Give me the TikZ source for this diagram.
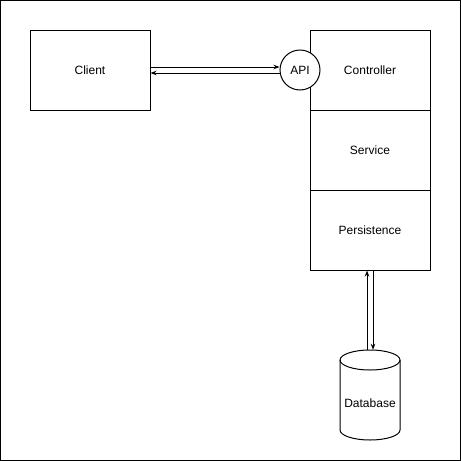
\documentclass[tikz,border=0pt]{standalone}
\usepackage{fontspec}
\setmainfont{Liberation Sans}
\usetikzlibrary{arrows.meta}
\begin{document}
\begin{tikzpicture}[x=1pt,y=-1pt,
  box/.style={draw,line width=1pt,minimum width=120pt,minimum height=80pt,inner sep=0pt,font=\fontsize{12}{14}\selectfont},
  conn/.style={line width=1pt,-{Stealth[length=6pt,width=4.5pt]}},
  lbl/.style={font=\fontsize{12}{14}\selectfont}]
\useasboundingbox (0,0) rectangle (461,461);
\draw[line width=1pt] (0.5,0.5) rectangle (460.5,460.5);
\node[box] (client) at (90,70) {Client};
\node[box] (ctrl) at (370,70) {Controller};
\node[box] (serv) at (370,150) {Service};
\node[box] (pers) at (370,230) {Persistence};
\node[draw,circle,line width=1pt,fill=white,minimum size=40pt,inner sep=0pt,lbl] (api) at (300,70) {API};
% database cylinder
\node[minimum width=60pt,minimum height=90pt,inner sep=0pt] (db) at (370,395) {};
\draw[line width=1pt,fill=white] (340,360) arc[x radius=30,y radius=10,start angle=180,end angle=360]
  -- (400,430) arc[x radius=30,y radius=10,start angle=0,end angle=180] -- cycle;
\draw[line width=1pt] (340,360) arc[x radius=30,y radius=10,start angle=180,end angle=0];
\node[lbl] at (370,403) {Database};
% connectors
\draw[conn] ([yshift=3pt]client.east) -- ([yshift=3pt]api.west);
\draw[conn] ([yshift=-3pt]api.west) -- ([yshift=-3pt]client.east);
\draw[conn] ([xshift=-3pt]db.north) -- ([xshift=-3pt]pers.south);
\draw[conn] ([xshift=3pt]pers.south) -- ([xshift=3pt]db.north);
\end{tikzpicture}
\end{document}
